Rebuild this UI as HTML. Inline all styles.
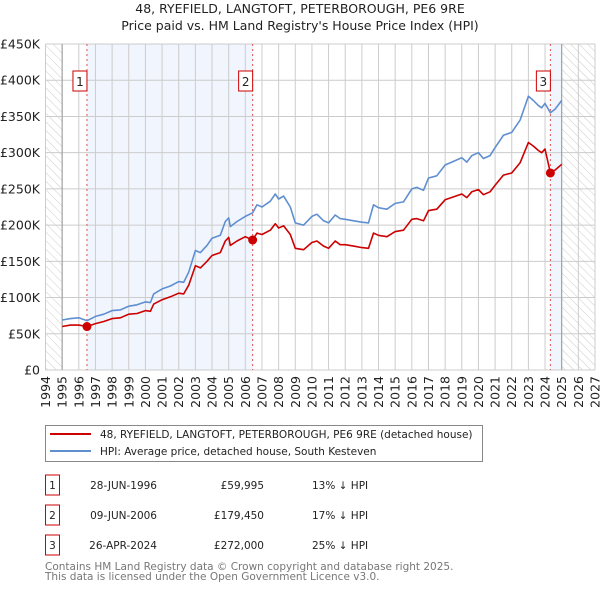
<!DOCTYPE html>
<html><head><meta charset="utf-8"><style>
body{margin:0;background:#fff;font-family:"DejaVu Sans","Liberation Sans",sans-serif;}
#wrap{position:relative;width:600px;height:590px;overflow:hidden;}
svg text{font-family:"DejaVu Sans","Liberation Sans",sans-serif;}
</style></head><body><div id="wrap">
<svg id="chart" width="600" height="590"></svg>
</div>
<script>
const hpiYears=[1995,1995.5,1996,1996.5,1997,1997.5,1998,1998.5,1999,1999.5,2000,2000.3,2000.5,2001,2001.5,2002,2002.3,2002.6,2003,2003.3,2003.7,2004,2004.5,2004.8,2005,2005.1,2005.5,2006,2006.44,2006.7,2007,2007.5,2007.8,2008,2008.3,2008.7,2009,2009.5,2010,2010.3,2010.7,2011,2011.4,2011.7,2012,2012.5,2013,2013.4,2013.7,2014,2014.5,2015,2015.5,2016,2016.3,2016.7,2017,2017.5,2018,2018.5,2019,2019.3,2019.6,2020,2020.3,2020.7,2021,2021.5,2022,2022.5,2023,2023.3,2023.6,2023.8,2024,2024.32,2024.6,2025];
const hpiValues=[69,71,72,68,74,77,82,83,88,90,94,93,105,112,116,122,121,135,165,162,172,182,186,205,210,198,205,212,217,228,225,233,243,236,240,225,203,200,212,215,206,203,214,209,208,206,204,203,228,224,222,230,232,250,252,248,265,268,283,288,293,287,296,300,292,296,307,324,328,345,378,372,365,362,368,355,360,372];
const redValues=[60,62,62,59.995,64,67,71,72,77,78,82,81,91,97,101,106,105,117,144,141,150,158,162,178,183,172,178,184,179.45,189,187,193,202,196,199,187,168,166,176,178,171,168,178,173,173,171,169,168,189,186,184,191,193,208,209,206,220,222,235,239,243,238,246,249,242,246,255,269,272,286,314,309,303,300,305,272,276,284];
const yTicks=[0,50,100,150,200,250,300,350,400,450];
const yLabels=["£0","£50K","£100K","£150K","£200K","£250K","£300K","£350K","£400K","£450K"];
const xYears=[1994,1995,1996,1997,1998,1999,2000,2001,2002,2003,2004,2005,2006,2007,2008,2009,2010,2011,2012,2013,2014,2015,2016,2017,2018,2019,2020,2021,2022,2023,2024,2025,2026,2027];
const saleYears=[1996.49,2006.44,2024.32];
const saleValues=[59.995,179.45,272];
const saleLabels=["1","2","3"];
const saleDates=["28-JUN-1996","09-JUN-2006","26-APR-2024"];
const salePrices=["£59,995","£179,450","£272,000"];
const saleDiffs=["13% ↓ HPI","17% ↓ HPI","25% ↓ HPI"];

const L=45.5,R=595,T=44,B=370;
const x=y=>L+(y-1994)*(R-L)/33;
const yv=v=>B-v*(B-T)/450;
const svg=document.getElementById('chart');
const NS='http://www.w3.org/2000/svg';
function mk(tag,attrs,parent){const e=document.createElementNS(NS,tag);for(const k in attrs)e.setAttribute(k,attrs[k]);(parent||svg).appendChild(e);return e;}

const defs=mk('defs',{});
const pat=mk('pattern',{id:'hatch',width:6,height:6,patternUnits:'userSpaceOnUse',patternTransform:'rotate(-45)'},defs);
mk('line',{x1:0,y1:0,x2:0,y2:6,stroke:'#ccc','stroke-width':1},pat);

let t=mk('text',{x:300,y:13,'text-anchor':'middle','font-size':12.5,fill:'#222'});t.textContent='48, RYEFIELD, LANGTOFT, PETERBOROUGH, PE6 9RE';

t=mk('text',{x:300,y:30,'text-anchor':'middle','font-size':12.5,fill:'#222'});t.textContent="Price paid vs. HM Land Registry's House Price Index (HPI)";


let r=mk('rect',{x:x(saleYears[0]),y:T,width:x(saleYears[1])-x(saleYears[0]),height:B-T,fill:'#eef3fc',opacity:0.8});

r=mk('rect',{x:x(saleYears[2]),y:T,width:x(2025)-x(saleYears[2]),height:B-T,fill:'#eef3fc',opacity:0.8});

r=mk('rect',{x:x(1994),y:T,width:x(1995)-x(1994),height:B-T,fill:'url(#hatch)'});

r=mk('rect',{x:x(2025),y:T,width:x(2027)-x(2025),height:B-T,fill:'url(#hatch)'});


yTicks.forEach((v,i)=>{
  const g=mk('line',{x1:L,x2:R,y1:yv(v),y2:yv(v),stroke:'#ccc','stroke-width':1});
  
  const tl=mk('text',{x:40,y:yv(v)+4.5,'text-anchor':'end','font-size':12.5,fill:'#222'});tl.textContent=yLabels[i];
  
});
xYears.forEach(yr=>{
  const g=mk('line',{x1:x(yr),x2:x(yr),y1:T,y2:B,stroke:'#ccc','stroke-width':1});
  
  const tl=mk('text',{x:0,y:0,'text-anchor':'end','font-size':12.5,fill:'#222',transform:`translate(${x(yr)+4.5},376) rotate(-90)`});tl.textContent=yr;
  
});
mk('line',{x1:x(1995),x2:x(1995),y1:T,y2:B,stroke:'#999','stroke-width':1});
mk('line',{x1:x(2025),x2:x(2025),y1:T,y2:B,stroke:'#999','stroke-width':1});

saleYears.forEach((yr,i)=>{
  const l=mk('line',{x1:x(yr),x2:x(yr),y1:T,y2:B,stroke:'#e05050','stroke-width':1,'stroke-dasharray':'2,3'});
  
  const b=mk('rect',{x:x(yr)-14,y:71,width:14,height:20,fill:'#fff',stroke:'#c00','stroke-width':1});
  
  const tt=mk('text',{x:x(yr)-7,y:86,'text-anchor':'middle','font-size':12,fill:'#222'});tt.textContent=saleLabels[i];
  
});

function path(xs,vs,color,name){
  const d=xs.map((yr,i)=>(i?'L':'M')+x(yr).toFixed(1)+','+yv(vs[i]).toFixed(1)).join('');
  const p=mk('path',{d:d,fill:'none',stroke:color,'stroke-width':1.6,'stroke-linejoin':'round'});
  
}
path(hpiYears,hpiValues,'#5f8fd0','hpi-line');
path(hpiYears,redValues,'#cc0000','price-paid-line');
saleYears.forEach((yr,i)=>{
  const c=mk('circle',{cx:x(yr),cy:yv(saleValues[i]),r:4.5,fill:'#cc0000'});
  
});

const lg=mk('g',{});
mk('rect',{x:45.5,y:425.5,width:437,height:36,fill:'#fff',stroke:'#888','stroke-width':1},lg);
mk('line',{x1:50,x2:91,y1:434,y2:434,stroke:'#cc0000','stroke-width':2},lg);
mk('line',{x1:50,x2:91,y1:451,y2:451,stroke:'#5f8fd0','stroke-width':2},lg);
t=mk('text',{x:100,y:438,'font-size':10.5,fill:'#222'},lg);t.textContent='48, RYEFIELD, LANGTOFT, PETERBOROUGH, PE6 9RE (detached house)';

t=mk('text',{x:100,y:455,'font-size':10.5,fill:'#222'},lg);t.textContent='HPI: Average price, detached house, South Kesteven';


saleLabels.forEach((lab,i)=>{
  const cy=483+i*30;
  const b=mk('rect',{x:45.5,y:cy-8,width:14,height:20,fill:'#fff',stroke:'#c00','stroke-width':1});
  
  let a=mk('text',{x:52.5,y:cy+6,'text-anchor':'middle','font-size':10.5,fill:'#222'});a.textContent=lab;
  
  a=mk('text',{x:157,y:cy+6,'text-anchor':'end','font-size':10.5,fill:'#222'});a.textContent=saleDates[i];
  
  a=mk('text',{x:264,y:cy+6,'text-anchor':'end','font-size':10.5,fill:'#222'});a.textContent=salePrices[i];
  
  a=mk('text',{x:312,y:cy+6,'font-size':10.5,fill:'#222'});a.textContent=saleDiffs[i];
  
});
t=mk('text',{x:45,y:570,'font-size':10.5,fill:'#777'});t.textContent='Contains HM Land Registry data © Crown copyright and database right 2025.';

t=mk('text',{x:45,y:580,'font-size':10.5,fill:'#777'});t.textContent='This data is licensed under the Open Government Licence v3.0.';

</script></body></html>
